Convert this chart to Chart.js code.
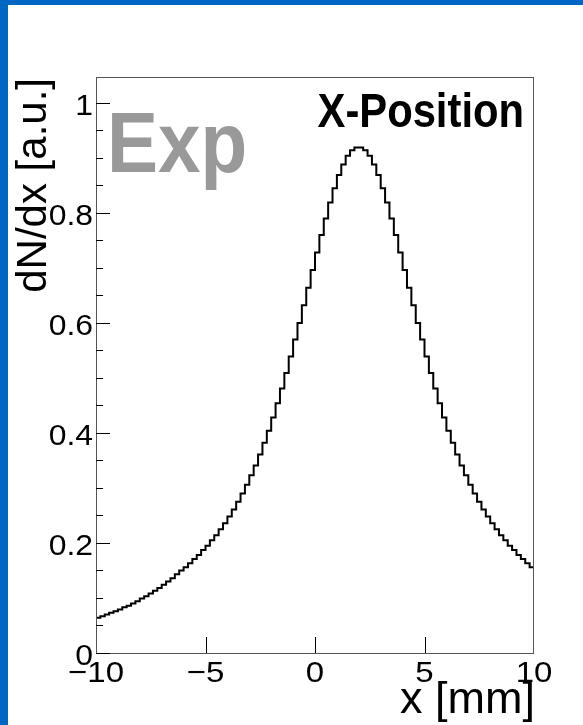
<!DOCTYPE html>
<html lang="en">
<head>
<meta charset="UTF-8">
<title>X-Position</title>
<script src="https://cdn.jsdelivr.net/npm/chart.js"></script>
<style>
  html, body { margin: 0; padding: 0; background: #fff; }
  canvas { display: block; }
</style>
</head>
<body>
<canvas id="posChart" width="583" height="725"></canvas>
<script>
// histogram binning (mm)
const binLow = -10;
const binHigh = 10;
const binWidth = 0.2;

// dN/dx per bin, from x = -10 to x = 10
const binValues = [
  0.064, 0.067, 0.070, 0.073, 0.076, 0.079, 0.083, 0.086, 0.090, 0.094,
  0.099, 0.103, 0.108, 0.113, 0.118, 0.124, 0.130, 0.136, 0.143, 0.150,
  0.156, 0.163, 0.171, 0.178, 0.187, 0.195, 0.205, 0.214, 0.225, 0.236,
  0.248, 0.261, 0.275, 0.290, 0.306, 0.323, 0.341, 0.361, 0.382, 0.404,
  0.428, 0.454, 0.481, 0.509, 0.539, 0.570, 0.600, 0.632, 0.664, 0.696,
  0.728, 0.760, 0.790, 0.819, 0.845, 0.869, 0.888, 0.904, 0.914, 0.919,
  0.919, 0.914, 0.904, 0.888, 0.869, 0.845, 0.819, 0.790, 0.760, 0.728,
  0.696, 0.664, 0.632, 0.600, 0.570, 0.539, 0.509, 0.481, 0.454, 0.428,
  0.404, 0.382, 0.361, 0.341, 0.323, 0.306, 0.290, 0.275, 0.261, 0.248,
  0.236, 0.225, 0.214, 0.205, 0.195, 0.187, 0.178, 0.171, 0.163, 0.156
];

const xMajorTicks = [-10, -5, 0, 5, 10];
const xTickLabels = ['\u221210', '\u22125', '0', '5', '10'];
const yMajorTicks = [0, 0.2, 0.4, 0.6, 0.8, 1];
const yTickLabels = ['0', '0.2', '0.4', '0.6', '0.8', '1'];
const yMinorStep = 0.05;
const yMax = 1.047;

const FONT = '"Liberation Sans", Arial, Helvetica, sans-serif';

// left edge of every bin plus the closing edge, for a step outline
const points = binValues.map((v, i) => ({ x: +(binLow + i * binWidth).toFixed(2), y: v }));
points.push({ x: binHigh, y: binValues[binValues.length - 1] });

// text with optional horizontal stretch
function drawText(ctx, str, x, y, font, color, align, sx) {
  sx = sx || 1;
  ctx.save();
  ctx.font = font;
  ctx.fillStyle = color;
  ctx.textBaseline = 'alphabetic';
  ctx.textAlign = 'left';
  const w = ctx.measureText(str).width * sx;
  let left = x;
  if (align === 'center') left = x - w / 2;
  else if (align === 'right') left = x - w;
  ctx.translate(left, y);
  ctx.scale(sx, 1);
  ctx.fillText(str, 0, 0);
  ctx.restore();
}

const rootFrame = {
  id: 'rootFrame',
  beforeDraw(chart) {
    const ctx = chart.ctx;
    ctx.save();
    ctx.fillStyle = '#ffffff';
    ctx.fillRect(0, 0, chart.width, chart.height);
    ctx.fillStyle = '#0066c4';
    ctx.fillRect(0, 0, chart.width, 5);
    ctx.fillRect(0, 0, 8, chart.height);
    ctx.restore();
  },
  afterDatasetsDraw(chart) {
    const { ctx, chartArea: a, scales: { x, y } } = chart;
    ctx.save();

    // frame
    ctx.strokeStyle = '#555';
    ctx.lineWidth = 1;
    ctx.strokeRect(a.left + 0.5, a.top + 0.5, a.right - a.left - 1, a.bottom - a.top);

    // y ticks, major and minor, pointing inwards
    ctx.strokeStyle = '#000';
    ctx.beginPath();
    for (let k = 0; k * yMinorStep <= yMax; k++) {
      const v = k * yMinorStep;
      const py = Math.round(y.getPixelForValue(v)) + 0.5;
      const major = k % 4 === 0;
      ctx.moveTo(a.left, py);
      ctx.lineTo(a.left + (major ? 14 : 7), py);
    }
    // x ticks
    xMajorTicks.forEach(v => {
      if (v === binLow || v === binHigh) return;
      const px = Math.round(x.getPixelForValue(v)) + 0.5;
      ctx.moveTo(px, a.bottom);
      ctx.lineTo(px, a.bottom - 16);
    });
    ctx.stroke();
    ctx.restore();

    // tick labels
    yMajorTicks.forEach((v, i) => {
      drawText(ctx, yTickLabels[i], a.left - 3, y.getPixelForValue(v) + 12, '29px ' + FONT, '#000', 'right', 1.1);
    });
    xMajorTicks.forEach((v, i) => {
      drawText(ctx, xTickLabels[i], x.getPixelForValue(v), a.bottom + 29, '30px ' + FONT, '#000', 'center', 1.1);
    });

    // axis titles
    drawText(ctx, 'x [mm]', a.right + 1, a.bottom + 60, '45px ' + FONT, '#000', 'right');
    ctx.save();
    ctx.translate(46, a.top + 1);
    ctx.rotate(-Math.PI / 2);
    drawText(ctx, 'dN/dx [a.u.]', 0, 0, '42px ' + FONT, '#000', 'right');
    ctx.restore();

    // labels inside the frame
    drawText(ctx, 'Exp', a.left + 11, 172, 'bold 86px ' + FONT, '#999999', 'left', 0.89);
    drawText(ctx, 'X-Position', a.right - 10, 127, 'bold 48px ' + FONT, '#000', 'right', 0.87);
  }
};

new Chart(document.getElementById('posChart'), {
  type: 'line',
  data: {
    datasets: [{
      data: points,
      borderColor: '#000',
      borderWidth: 2,
      stepped: 'before',
      fill: false,
      pointRadius: 0,
      tension: 0
    }]
  },
  options: {
    responsive: false,
    animation: false,
    devicePixelRatio: 1,
    layout: { padding: { left: 96, right: 49, top: 77, bottom: 72 } },
    plugins: { legend: { display: false }, tooltip: { enabled: false } },
    scales: {
      x: { type: 'linear', min: binLow, max: binHigh, display: false },
      y: { type: 'linear', min: 0, max: yMax, display: false }
    }
  },
  plugins: [rootFrame]
});
</script>
</body>
</html>
